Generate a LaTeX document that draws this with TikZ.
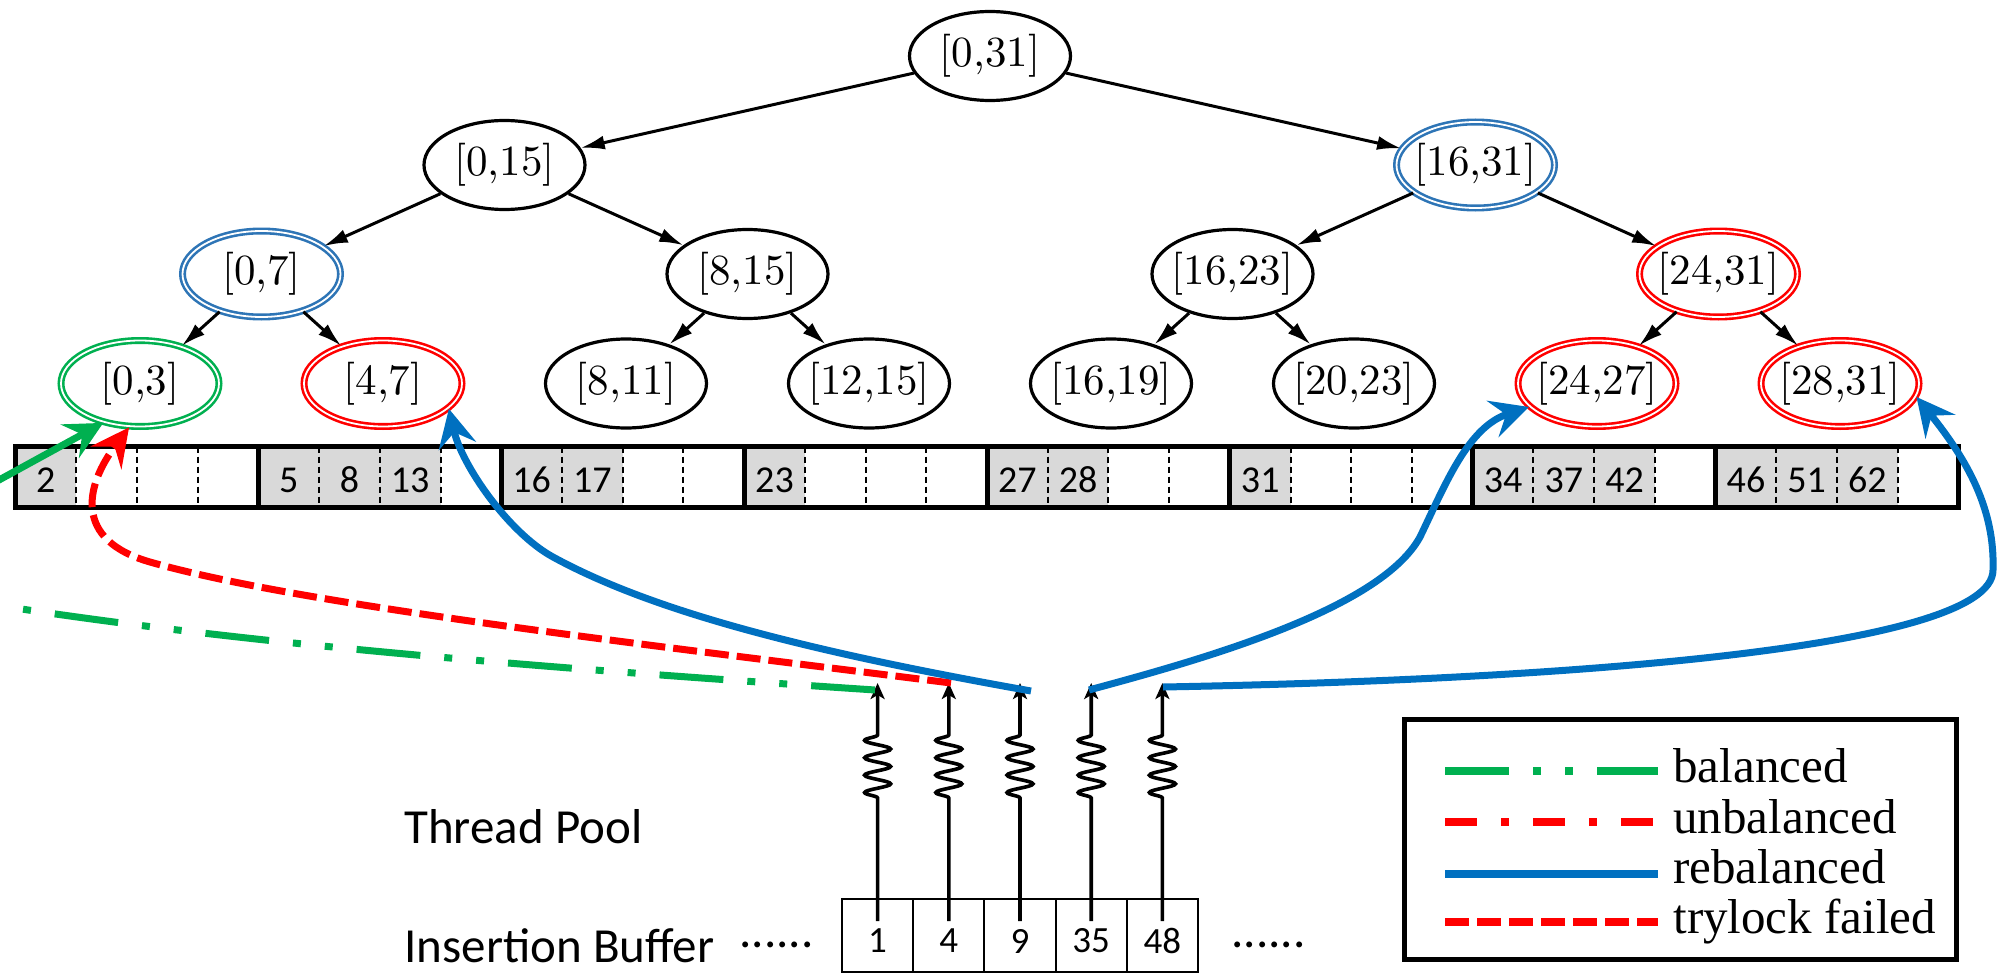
\documentclass[tikz,border=0pt]{standalone}
\usepackage{fontspec}
\usetikzlibrary{arrows.meta,decorations.pathmorphing,shapes.geometric}
\newfontfamily\gillish{Carlito}
\newfontfamily\timesish{Liberation Serif}
\newfontfamily\cmten{lmroman10-regular.otf}
\definecolor{cgreen}{HTML}{00B050}
\definecolor{cred}{HTML}{FF0000}
\definecolor{cblue}{HTML}{0070C0}
\definecolor{eblue}{HTML}{2E75B6}
\definecolor{cellgray}{HTML}{D9D9D9}
\newcommand\tlab[1]{\makebox[0pt]{#1}}
\begin{document}
\begin{tikzpicture}[x=0.5pt,y=-0.5pt,
  tnode/.style={ellipse, draw=black, line width=1.6pt, minimum width=80.5pt, minimum height=44.5pt, inner sep=0pt, font=\cmten\fontsize{21.5}{25}\selectfont},
  dnode/.style={tnode, double=white, double distance=0.9pt, line width=1.3pt, minimum width=79pt, minimum height=43pt},
  tedge/.style={line width=1.5pt, -{Latex[length=12pt,width=7pt]}},
  bigtip/.style={-{Stealth[length=19pt,width=19pt,inset=7pt]}},
  balancedpat/.style={dash pattern=on 32pt off 12pt on 4pt off 12pt on 4pt off 12pt},
  unbalancedpat/.style={dash pattern=on 16pt off 12pt on 4pt off 12pt},
  trypat/.style={dash pattern=on 12pt off 4pt},
  curve/.style={line width=3.5pt},
  cellnum/.style={inner sep=0pt, font=\gillish\fontsize{19}{22}\selectfont},
  celldiv/.style={line width=1pt, dash pattern=on 3pt off 2pt},
  barline/.style={line width=2.5pt},
  bufcell/.style={rectangle, draw, line width=1pt, minimum width=35.6pt, minimum height=36.5pt, inner sep=0pt},
  bufnum/.style={inner sep=0pt, font=\gillish\fontsize{18.5}{21}\selectfont},
  thread/.style={line width=1.8pt, -{Stealth[length=8pt,width=7pt,inset=2pt]}, decoration={snake, amplitude=6.5pt, segment length=8.7pt}},
  sidelabel/.style={anchor=base west, inner sep=0pt, font=\gillish\fontsize{24.5}{28}\selectfont},
  legtext/.style={anchor=base west, inner sep=0pt, font=\timesish\fontsize{24.5}{28}\selectfont},
  legline/.style={line width=4pt}
]
\useasboundingbox (0,0) rectangle (2003,974);
\clip (0,0) rectangle (2003,974);

% ---------- tree ----------
\node[tnode] (n031) at (990,56) {\tlab{[0,31]}};
\node[tnode] (n015) at (504.5,165) {\tlab{[0,15]}};
\node[dnode, draw=eblue] (n1631) at (1475.5,165) {\tlab{[16,31]}};
\node[dnode, draw=eblue] (n07) at (261.5,274) {\tlab{[0,7]}};
\node[tnode] (n815) at (747.5,274) {\tlab{[8,15]}};
\node[tnode] (n1623) at (1232.5,274) {\tlab{[16,23]}};
\node[dnode, draw=cred] (n2431) at (1718.5,274) {\tlab{[24,31]}};
\node[dnode, draw=cgreen] (n03) at (140,383.5) {\tlab{[0,3]}};
\node[dnode, draw=cred] (n47) at (383,383.5) {\tlab{[4,7]}};
\node[tnode] (n811) at (626,383.5) {\tlab{[8,11]}};
\node[tnode] (n1215) at (869,383.5) {\tlab{[12,15]}};
\node[tnode] (n1619) at (1111,383.5) {\tlab{[16,19]}};
\node[tnode] (n2023) at (1354,383.5) {\tlab{[20,23]}};
\node[dnode, draw=cred] (n2427) at (1597,383.5) {\tlab{[24,27]}};
\node[dnode, draw=cred] (n2831) at (1840,383.5) {\tlab{[28,31]}};

\draw[tedge] (n031) -- (n015);
\draw[tedge] (n031) -- (n1631);
\draw[tedge] (n015) -- (n07);
\draw[tedge] (n015) -- (n815);
\draw[tedge] (n1631) -- (n1623);
\draw[tedge] (n1631) -- (n2431);
\draw[tedge] (n07) -- (n03);
\draw[tedge] (n07) -- (n47);
\draw[tedge] (n815) -- (n811);
\draw[tedge] (n815) -- (n1215);
\draw[tedge] (n1623) -- (n1619);
\draw[tedge] (n1623) -- (n2023);
\draw[tedge] (n2431) -- (n2427);
\draw[tedge] (n2431) -- (n2831);

% ---------- array ----------
\foreach \s/\c/\v in {0/0/2,1/0/5,1/1/8,1/2/13,2/0/16,2/1/17,3/0/23,4/0/27,4/1/28,5/0/31,6/0/34,6/1/37,6/2/42,7/0/46,7/1/51,7/2/62}{
  \pgfmathsetmacro\xl{15.5+242.875*\s+60.71875*\c}
  \fill[cellgray] (\xl,446.5) rectangle ++(60.71875,61);
  \node[cellnum] (num-\s-\c) at (\xl+30.36,480) {\v};
}
\foreach \s in {0,...,7}{
  \foreach \c in {1,2,3}{
    \draw[celldiv] ({15.5+242.875*\s+60.71875*\c},446.5) -- ++(0,61);
  }
}
\foreach \s in {1,...,7}{
  \draw[barline] ({15.5+242.875*\s},446.5) -- ++(0,61);
}
\draw[barline] (15.5,446.5) rectangle (1958.5,507.5);

% ---------- insertion buffer and threads ----------
\foreach \i/\x/\v in {1/877.6/1,2/948.8/4,3/1020/9,4/1091.2/35,5/1162.4/48}{
  \node[bufcell] (buf\i) at (\x,935.5) {};
  \node[bufnum] (bufn\i) at (\x,941) {\v};
  \coordinate (s\i) at (\x,921);
  \coordinate (t\i) at (\x,683);
  \draw[thread] (s\i) -- (\x,798) decorate {-- (\x,728)} -- (t\i);
}
\node[sidelabel] (tp) at (404,843) {Thread Pool};
\node[sidelabel] (ib) at (404,962) {Insertion Buffer};
\node[sidelabel] (dotl) at (739,947) {......};
\node[sidelabel] (dotr) at (1231,947) {......};

% ---------- legend ----------
\node[draw, line width=2.5pt, minimum width=276pt, minimum height=120.25pt, inner sep=0pt] (legend) at (1680.5,839.25) {};
\coordinate (la1) at (1445,771); \coordinate (lb1) at (1658,771);
\coordinate (la2) at (1445,822); \coordinate (lb2) at (1658,822);
\coordinate (la3) at (1445,874); \coordinate (lb3) at (1658,874);
\coordinate (la4) at (1445,922); \coordinate (lb4) at (1658,922);
\draw[legline, cgreen, balancedpat] (la1) -- (lb1);
\draw[legline, cred, unbalancedpat] (la2) -- (lb2);
\draw[legline, cblue] (la3) -- (lb3);
\draw[legline, cred, trypat] (la4) -- (lb4);
\node[legtext] (lt1) at (1673,782) {balanced};
\node[legtext] (lt2) at (1673,833) {unbalanced};
\node[legtext] (lt3) at (1673,883) {rebalanced};
\node[legtext] (lt4) at (1673,933) {trylock failed};

% ---------- flows ----------
\coordinate (g0) at (875,690);
\coordinate (gexit) at (-60,596);
\coordinate (gin) at (-18.5,489.6);
\coordinate (r0) at (951,683);
\coordinate (b10) at (1031,691);
\coordinate (b20) at (1089,690);
\coordinate (b30) at (1163,687);

\draw[curve, cgreen, balancedpat] (g0) .. controls (500,665) and (200,640) .. (gexit);
\draw[curve, cgreen, bigtip] (gin) -- (n03.227);
\draw[curve, cred, trypat, bigtip] (r0) .. controls (650,645) and (300,605) .. (150,562) .. controls (73,540) and (85,486) .. (n03.256);
\draw[curve, cblue, bigtip] (b10) .. controls (800,650) and (650,610) .. (553,557) .. controls (509,533) and (462,466) .. (n47.339);
\draw[curve, cblue, bigtip] (b20) .. controls (1200,660) and (1380,610) .. (1420,537) .. controls (1446,483) and (1468,427) .. (n2427.199);
\draw[curve, cblue, bigtip] (b30) .. controls (1550,680) and (1993,650) .. (1993,570) .. controls (1995,510) and (1968,461) .. (n2831.350);
\end{tikzpicture}
\end{document}
